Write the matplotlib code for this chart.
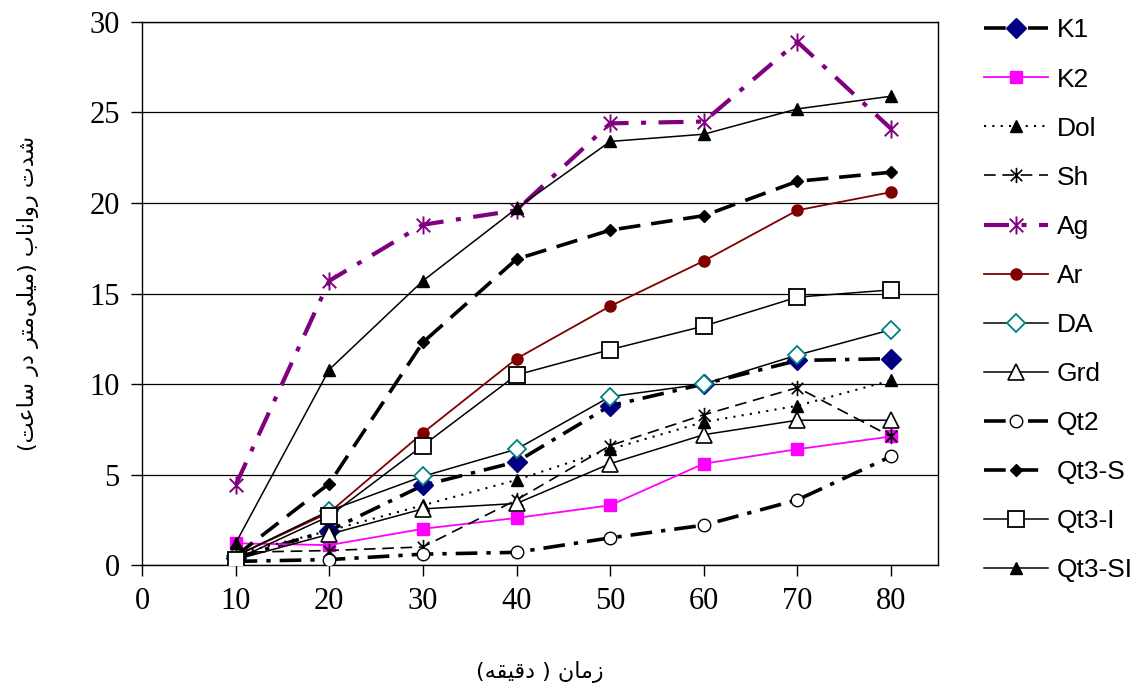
import matplotlib
matplotlib.use("Agg")
import matplotlib.pyplot as plt
from matplotlib.path import Path

# زمان (دقیقه)
time_min = [10, 20, 30, 40, 50, 60, 70, 80]

k1 = [0.4, 1.9, 4.4, 5.7, 8.8, 10.0, 11.3, 11.4]
k2 = [1.2, 1.1, 2.0, 2.6, 3.3, 5.6, 6.4, 7.1]
dol = [0.6, 1.9, 3.3, 4.7, 6.4, 7.9, 8.8, 10.2]
sh = [0.7, 0.8, 1.0, 3.6, 6.6, 8.3, 9.8, 7.1]
ag = [4.4, 15.7, 18.8, 19.6, 24.4, 24.5, 28.9, 24.1]
ar = [0.5, 2.9, 7.3, 11.4, 14.3, 16.8, 19.6, 20.6]
da = [0.5, 3.0, 4.9, 6.4, 9.3, 10.0, 11.6, 13.0]
grd = [0.3, 1.7, 3.1, 3.4, 5.6, 7.2, 8.0, 8.0]
qt2 = [0.2, 0.3, 0.6, 0.7, 1.5, 2.2, 3.6, 6.0]
qt3_s = [0.5, 4.5, 12.3, 16.9, 18.5, 19.3, 21.2, 21.7]
qt3_i = [0.3, 2.7, 6.6, 10.5, 11.9, 13.2, 14.8, 15.2]
qt3_si = [1.2, 10.8, 15.7, 19.7, 23.4, 23.8, 25.2, 25.9]

x_ticks = [0, 10, 20, 30, 40, 50, 60, 70, 80]
y_ticks = [0, 5, 10, 15, 20, 25, 30]

y_label = "شدت رواناب (میلی‌متر در ساعت)"
x_label = "زمان ( دقیقه)"

# matplotlib does no Arabic shaping, so pick presentation forms by hand
FORMS = {
    'ا': ('\uFE8D', '\uFE8E', None, None),
    'ب': ('\uFE8F', '\uFE90', '\uFE91', '\uFE92'),
    'ت': ('\uFE95', '\uFE96', '\uFE97', '\uFE98'),
    'د': ('\uFEA9', '\uFEAA', None, None),
    'ر': ('\uFEAD', '\uFEAE', None, None),
    'ز': ('\uFEAF', '\uFEB0', None, None),
    'س': ('\uFEB1', '\uFEB2', '\uFEB3', '\uFEB4'),
    'ش': ('\uFEB5', '\uFEB6', '\uFEB7', '\uFEB8'),
    'ع': ('\uFEC9', '\uFECA', '\uFECB', '\uFECC'),
    'ق': ('\uFED5', '\uFED6', '\uFED7', '\uFED8'),
    'ل': ('\uFEDD', '\uFEDE', '\uFEDF', '\uFEE0'),
    'م': ('\uFEE1', '\uFEE2', '\uFEE3', '\uFEE4'),
    'ن': ('\uFEE5', '\uFEE6', '\uFEE7', '\uFEE8'),
    'ه': ('\uFEE9', '\uFEEA', '\uFEEB', '\uFEEC'),
    'و': ('\uFEED', '\uFEEE', None, None),
    'ی': ('\uFBFC', '\uFBFD', '\uFBFE', '\uFBFF'),
}
MIRROR = {'(': ')', ')': '('}


def persian(text):
    out = []
    for i, ch in enumerate(text):
        if ch == '\u200c':
            continue
        if ch not in FORMS:
            out.append(MIRROR.get(ch, ch))
            continue
        prev = text[i - 1] if i > 0 else ''
        nxt = text[i + 1] if i + 1 < len(text) else ''
        join_prev = prev in FORMS and FORMS[prev][2] is not None
        join_next = FORMS[ch][2] is not None and nxt in FORMS
        if join_prev and join_next:
            out.append(FORMS[ch][3])
        elif join_prev:
            out.append(FORMS[ch][1])
        elif join_next:
            out.append(FORMS[ch][2])
        else:
            out.append(FORMS[ch][0])
    return ''.join(reversed(out))


# Excel style asterisk: X with a vertical bar
star = Path([(0, -1), (0, 1), (-0.75, -0.75), (0.75, 0.75), (-0.75, 0.75), (0.75, -0.75)],
            [Path.MOVETO, Path.LINETO] * 3)

fig = plt.figure(figsize=(11.43, 6.96), dpi=100)
ax = fig.add_axes([0.1242, 0.1882, 0.6964, 0.7802])

thin = 1.1
thick = 2.6
long_dash_dot = (0, (6, 2.5, 1.2, 2.5))

ax.plot(time_min, k1, color='black', lw=thick, ls=long_dash_dot, marker='D', ms=10,
        mfc='#000080', mec='#000080', label='K1', zorder=5)
ax.plot(time_min, k2, color='#FF00FF', lw=1.3, marker='s', ms=8,
        mfc='#FF00FF', mec='#FF00FF', label='K2', zorder=5)
ax.plot(time_min, dol, color='black', lw=1.5, ls=(0, (1, 3)), marker='^', ms=9,
        mfc='black', mec='black', label='Dol', zorder=5)
ax.plot(time_min, sh, color='black', lw=1.2, ls=(0, (7, 4)), marker=star, ms=11,
        mfc='none', mec='black', mew=1.2, label='Sh', zorder=5)
ax.plot(time_min, ag, color='#800080', lw=3.0, ls=(0, (6, 3, 1.2, 3)), marker=star, ms=13,
        mfc='none', mec='#800080', mew=1.4, label='Ag', zorder=5)
ax.plot(time_min, ar, color='#800000', lw=1.3, marker='o', ms=8,
        mfc='#800000', mec='#800000', label='Ar', zorder=5)
ax.plot(time_min, da, color='black', lw=thin, marker='D', ms=9,
        mfc='white', mec='#008080', mew=1.3, label='DA', zorder=5)
ax.plot(time_min, grd, color='black', lw=thin, marker='^', ms=12,
        mfc='white', mec='black', mew=1.2, label='Grd', zorder=5)
ax.plot(time_min, qt2, color='black', lw=thick, ls=long_dash_dot, marker='o', ms=9,
        mfc='white', mec='black', mew=1.0, label='Qt2', zorder=5)
ax.plot(time_min, qt3_s, color='black', lw=thick, ls=(0, (6, 3)), marker='D', ms=6,
        mfc='black', mec='black', label='Qt3-S', zorder=5)
ax.plot(time_min, qt3_i, color='black', lw=thin, marker='s', ms=12,
        mfc='white', mec='black', mew=1.3, label='Qt3-I', zorder=5)
ax.plot(time_min, qt3_si, color='black', lw=thin, marker='^', ms=9,
        mfc='black', mec='black', label='Qt3-SI', zorder=5)

ax.set_xlim(0, 85)
ax.set_ylim(0, 30)
ax.set_xticks(x_ticks)
ax.set_yticks(y_ticks)
ax.yaxis.grid(True, color='black', lw=0.9)
ax.set_axisbelow(True)
for s in ax.spines.values():
    s.set_linewidth(1.0)
ax.tick_params(direction='out', length=8, width=1, pad=8)
for lab in ax.get_xticklabels() + ax.get_yticklabels():
    lab.set_fontfamily('Liberation Serif')
    lab.set_fontsize(22)

ax.set_ylabel(persian(y_label), fontsize=16, family=['DejaVu Sans'], labelpad=36)
ax.set_xlabel(persian(x_label), fontsize=16, family=['DejaVu Sans'], labelpad=32)

fig.legend(loc='upper left', bbox_to_anchor=(0.845, 1.0), frameon=False,
           prop={'family': 'Liberation Sans', 'size': 19}, handlelength=2.4,
           handletextpad=0.35, labelspacing=0.95, borderaxespad=0.3)

fig.savefig('out.png', dpi=100)
